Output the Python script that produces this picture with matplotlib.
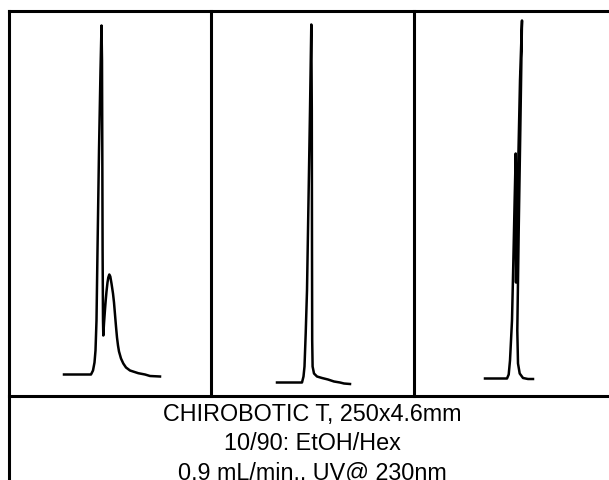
import numpy as np
import matplotlib
matplotlib.use("Agg")
import matplotlib.pyplot as plt
from matplotlib.lines import Line2D

# ======================================================
# DATA (time in s, signal in mV)
# ======================================================
t1 = [55, 82, 84, 85.5, 86.5, 87.5, 88.5, 90, 91.5, 92.5, 93, 93.3, 93.6, 94,
      94.3, 95, 96, 96.7, 97.5, 98.5, 99.3, 100.3, 101.3, 102.5, 104, 105,
      106, 107, 108, 109, 110, 112, 114.3, 117, 121, 129.3, 136, 141, 151]
s1 = [21, 21, 25, 33, 45, 75, 145, 245, 325, 370, 335, 245, 145, 75,
      60, 72, 86, 95, 104, 113, 118, 121, 119, 112, 102, 93,
      81, 69, 58, 50, 44, 37, 32, 28, 25, 22.3, 21, 19.5, 19]

t2 = [66.5, 91.5, 93, 94, 95.2, 96.5, 98, 99.5, 100.8, 101.3, 101.5, 101.7,
      102.1, 103.5, 106.5, 111.5, 117.5, 123.5, 129.5, 133.5, 139.5]
s2 = [13, 13, 19, 29, 62, 105, 195, 285, 371, 285, 145, 55,
      29, 22, 19, 17.5, 16, 14, 13, 12, 11.5]

t3 = [71.5, 93.5, 95.2, 96.5, 98.5, 99.8, 101.2, 102.2, 102.3, 102.5, 103.5,
      105, 106.5, 108.5, 106.8, 105.2, 103.8, 104.5, 106.2, 109.5, 114.5, 119.5]
s3 = [17, 17, 21, 35, 75, 132, 198, 242, 175, 113, 165,
      245, 315, 375, 265, 165, 65, 32, 22, 17.5, 16.5, 16.5]

caption = [
    "CHIROBOTIC T, 250x4.6mm",
    "10/90: EtOH/Hex",
    "0.9 mL/min., UV@ 230nm",
]

# ======================================================
# FIGURE / LAYOUT (pixel based, 609x480)
# ======================================================
W, H = 609, 480
fig = plt.figure(figsize=(W / 100, H / 100), dpi=100)

def px(x, y):
    return x / W, 1 - y / H

top, mid = 10.5, 395.5
cols = [9, 210.5, 413.5, 616]
traces = [(t1, s1), (t2, s2), (t3, s3)]

for i, (t, s) in enumerate(traces):
    x0, x1 = cols[i], cols[i + 1]
    ax = fig.add_axes([x0 / W, 1 - mid / H, (x1 - x0) / W, (mid - top) / H])
    ax.plot(t, s, color="black", linewidth=1.8, solid_joinstyle="round")
    ax.set_xlim(0, x1 - x0)
    ax.set_ylim(0, mid - top)
    ax.axis("off")

# table borders
lw = 2.2
def hline(y, xa, xb):
    fig.add_artist(Line2D([xa / W, xb / W], [1 - y / H, 1 - y / H],
                          color="black", linewidth=lw, solid_capstyle="projecting"))

def vline(x, ya, yb):
    fig.add_artist(Line2D([x / W, x / W], [1 - ya / H, 1 - yb / H],
                          color="black", linewidth=lw, solid_capstyle="projecting"))

hline(top, cols[0], 640)
hline(mid, cols[0], 640)
vline(cols[0], top, 500)
vline(cols[1], top, mid)
vline(cols[2], top, mid)

# caption
for k, line in enumerate(caption):
    x, y = px(312, 421 + 29 * k)
    fig.text(x, y, line, ha="center", va="baseline",
             fontsize=16.8, family="Liberation Sans")

fig.savefig("out.png", dpi=100)
